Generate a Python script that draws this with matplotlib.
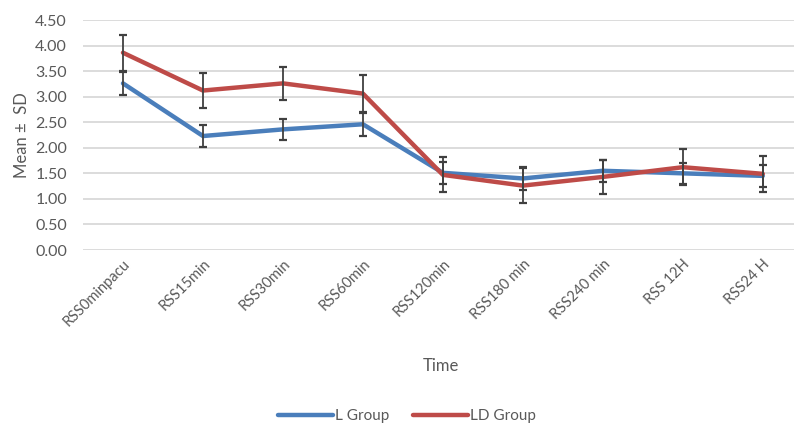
import numpy as np
import matplotlib
matplotlib.use("Agg")
import matplotlib.pyplot as plt

# values
times = ["RSS0minpacu", "RSS15min", "RSS30min", "RSS60min", "RSS120min",
         "RSS180 min", "RSS240 min", "RSS 12H", "RSS24 H"]
l_mean = [3.26, 2.23, 2.36, 2.46, 1.51, 1.40, 1.55, 1.50, 1.45]
l_sd = [0.23, 0.21, 0.21, 0.22, 0.21, 0.22, 0.21, 0.21, 0.21]
ld_mean = [3.86, 3.12, 3.26, 3.06, 1.47, 1.26, 1.43, 1.62, 1.49]
ld_sd = [0.35, 0.34, 0.33, 0.36, 0.34, 0.34, 0.33, 0.35, 0.35]
yticks = [0, 0.5, 1.0, 1.5, 2.0, 2.5, 3.0, 3.5, 4.0, 4.5]

plt.rcParams['font.family'] = ['Lato', 'DejaVu Sans']

blue = '#4a7ebb'
red = '#be4b48'
grey = '#595959'

fig = plt.figure(figsize=(7.94, 4.25), dpi=100)
ax = fig.add_axes([83 / 794, 175 / 425, 711 / 794, 230 / 425])

x = np.arange(len(times))
ax.plot(x, l_mean, color=blue, lw=3.2, solid_capstyle='round', label='L Group', zorder=3)
ax.plot(x, ld_mean, color=red, lw=3.2, solid_capstyle='round', label='LD Group', zorder=3)
ax.errorbar(x, l_mean, yerr=l_sd, fmt='none', ecolor='#404040', elinewidth=1.3,
            capsize=3, capthick=1.6, zorder=4)
ax.errorbar(x, ld_mean, yerr=ld_sd, fmt='none', ecolor='#404040', elinewidth=1.3,
            capsize=3, capthick=1.6, zorder=4)

ax.set_xlim(-0.5, 8.39)
ax.set_ylim(0, 4.5)
ax.set_yticks(yticks)
ax.set_yticklabels([f"{v:.2f}" for v in yticks], fontsize=11.5, color=grey)
ax.set_xticks(x)
ax.set_xticklabels(times, rotation=45, ha='right', rotation_mode='anchor',
                   fontsize=10.5, color=grey)
ax.tick_params(length=0, pad=11.5)
ax.tick_params(axis='x', pad=5)
ax.grid(axis='y', color='#d9d9d9', lw=1.3)
ax.set_axisbelow(True)
for s in ax.spines.values():
    s.set_visible(False)

ax.set_ylabel("Mean ±  SD", fontsize=12, color=grey, labelpad=4)
fig.text(441 / 794, 1 - 366 / 425, "Time", fontsize=12, color=grey, ha='center', va='center')

handles, labels = ax.get_legend_handles_labels()
fig.legend(handles, labels, loc='center', bbox_to_anchor=(407 / 794, 1 - 416 / 425), ncol=2,
           frameon=False, fontsize=11, handlelength=3.6, handletextpad=0.1,
           columnspacing=1.6, labelcolor=grey)

fig.savefig("out.png", dpi=100)
